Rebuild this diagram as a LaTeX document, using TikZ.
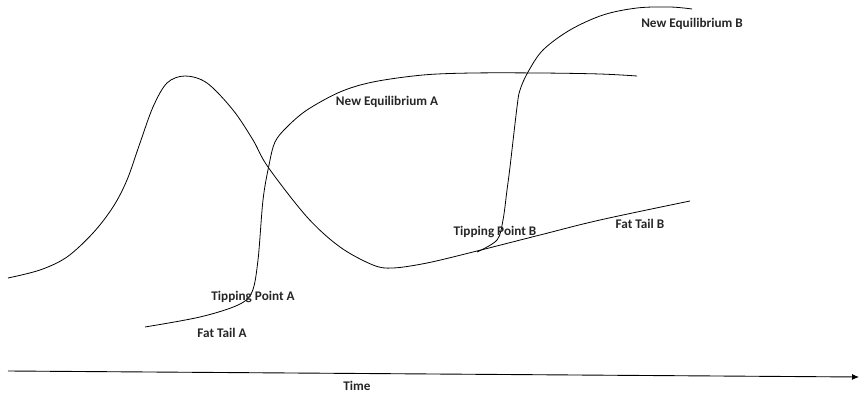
\documentclass[tikz,border=0pt]{standalone}
\usepackage{fontspec}
\setmainfont{Carlito}
\usetikzlibrary{arrows.meta}
\tikzset{
  curve/.style={line width=0.8pt, black},
  lbl/.style={font=\bfseries\fontsize{13.2}{15}\selectfont, text=black!85, inner sep=0pt}
}
\begin{document}
\begin{tikzpicture}[x=1pt,y=-1pt]
\useasboundingbox (0,0) rectangle (861,395);
% bell curve + fat tail B
\draw[curve] plot[smooth, tension=0.55] coordinates {(8,278) (40,270) (67,257) (93,233) (113,207) (127,180) (140,143) (153,107) (167,83) (185,76) (207,83) (233,110) (253,140) (268,167) (307,217) (340,247) (373,265) (393,268) (427,263) (473,252) (540,235) (600,220) (690,201)};
% fat tail A -> new equilibrium A
\draw[curve] plot[smooth, tension=0.55] coordinates {(145,327) (200,317) (238,305) (252,292) (258,260) (263,200) (269,165) (275,142) (287,127) (307,110) (340,92) (373,82) (423,75) (473,73) (540,73) (600,74) (637,76)};
% tipping B -> new equilibrium B
\draw[curve] plot[smooth, tension=0.55] coordinates {(477,252) (497,240) (503,220) (507,190) (510,167) (517,107) (520,90) (528,72) (543,50) (570,30) (603,15) (637,8) (670,7) (692,9)};
% axis
\coordinate (a0) at (8,371);
\coordinate (a1) at (859,377);
\draw[line width=0.9pt, -{Latex[length=7pt,width=6pt]}] (a0) -- (a1);
\node[lbl] (tpa) at (253,297) {Tipping Point A};
\node[lbl] (fta) at (222,333) {Fat Tail A};
\node[lbl] (tpb) at (495,232) {Tipping Point B};
\node[lbl] (ftb) at (640,224) {Fat Tail B};
\node[lbl] (nea) at (387,102) {New Equilibrium A};
\node[lbl] (neb) at (692,24) {New Equilibrium B};
\node[lbl] (time) at (357,386) {Time};
\end{tikzpicture}
\end{document}
